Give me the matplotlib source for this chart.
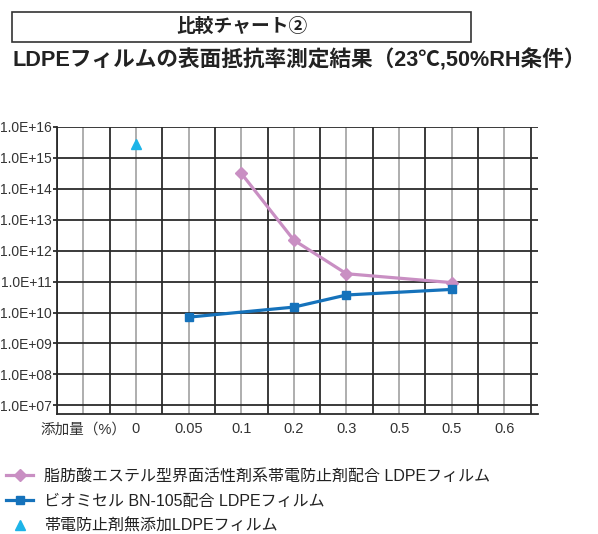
import numpy as np
import matplotlib.pyplot as plt
from matplotlib.lines import Line2D

plt.rcParams['font.family'] = ['Liberation Sans', 'Noto Sans CJK JP', 'DejaVu Sans']

# カテゴリ（横軸）
categories = ['添加量（%）', '0', '0.05', '0.1', '0.2', '0.3', '0.5', '0.5', '0.6']
# 表面抵抗率 (Ω)
fatty_acid = [np.nan, np.nan, np.nan, 3.2e14, 2.2e12, 1.8e11, np.nan, 9.3e10, np.nan]
bn105 = [np.nan, np.nan, 7.1e9, np.nan, 1.5e10, 3.7e10, np.nan, 5.6e10, np.nan]
no_additive = [np.nan, 2.8e15, np.nan, np.nan, np.nan, np.nan, np.nan, np.nan, np.nan]

labels = ['脂肪酸エステル型界面活性剤系帯電防止剤配合 LDPEフィルム',
          'ビオミセル BN-105配合 LDPEフィルム',
          '帯電防止剤無添加LDPEフィルム']

c_pink = '#c98fc3'
c_blue = '#1572bb'
c_cyan = '#1db4e8'

fig = plt.figure(figsize=(5.98, 5.34), dpi=100)
ax = fig.add_axes([57/598, 1-414/534, (538-57)/598, (414-127)/534])

x = np.arange(len(categories))

def valid(vals):
    v = np.array(vals, dtype=float)
    m = ~np.isnan(v)
    return x[m], v[m]

# グリッド
for b in np.arange(-0.5, len(categories), 1.0):
    ax.axvline(b, color='#2b2b2b', lw=1.3, zorder=1)
for c in x:
    ax.axvline(c, color='#a8a8a8', lw=1.3, zorder=1)
for k in range(7, 17):
    ax.axhline(10.0**k, color='#2b2b2b', lw=1.3, zorder=1)

xs, ys = valid(fatty_acid)
ax.plot(xs, ys, color=c_pink, lw=2.3, marker='D', ms=6.5, zorder=3)
xs, ys = valid(bn105)
ax.plot(xs, ys, color=c_blue, lw=2.3, marker='s', ms=6.3, zorder=4)
xs, ys = valid(no_additive)
ax.plot(xs, ys, color=c_cyan, lw=0, marker='^', ms=7, zorder=4)

ax.set_yscale('log')
ax.set_ylim(10**6.72, 1e16)
ax.set_xlim(-0.5, 8.64)
ax.set_yticks([10.0**k for k in range(7, 17)])
ax.set_yticklabels(['1.0E+%02d' % k for k in range(7, 17)])
ax.minorticks_off()
ax.set_xticks(x)
ax.set_xticklabels(categories)
ax.tick_params(axis='y', length=3, width=1.3, color='#2b2b2b', labelsize=10, pad=1, labelcolor='#333333')
ax.tick_params(axis='x', length=0, labelsize=10.5, pad=6, labelcolor='#333333')
for s in ['top', 'right']:
    ax.spines[s].set_visible(False)
ax.spines['left'].set_color('#2b2b2b')
ax.spines['left'].set_linewidth(1.3)
ax.spines['bottom'].set_color('#2b2b2b')
ax.spines['bottom'].set_linewidth(1.3)

# タイトル
fig.patches.append(plt.Rectangle((12/598, 1-42/534), (471-12)/598, 30/534,
                                 transform=fig.transFigure, fill=False,
                                 edgecolor='#333333', lw=1.2))
fig.text(242/598, 1-27/534, '比較チャート②', ha='center', va='center',
         fontsize=13.5, fontweight='bold', color='#222222')
fig.text(12/598, 1-60/534, 'LDPEフィルムの表面抵抗率測定結果（23℃,50%RH条件）',
         ha='left', va='center', fontsize=15.6, fontweight='bold', color='#222222')

handles = [Line2D([], [], color=c_pink, lw=2.3, marker='D', ms=6),
           Line2D([], [], color=c_blue, lw=2.3, marker='s', ms=6),
           Line2D([], [], color=c_cyan, lw=0, marker='^', ms=7)]
fig.legend(handles, labels, loc='upper left', bbox_to_anchor=(-2/598, 1-461/534),
           frameon=False, fontsize=11.5, handlelength=1.7, handletextpad=0.7,
           labelspacing=0.62, borderpad=0, labelcolor='#222222')

fig.savefig('out.png', dpi=100)
